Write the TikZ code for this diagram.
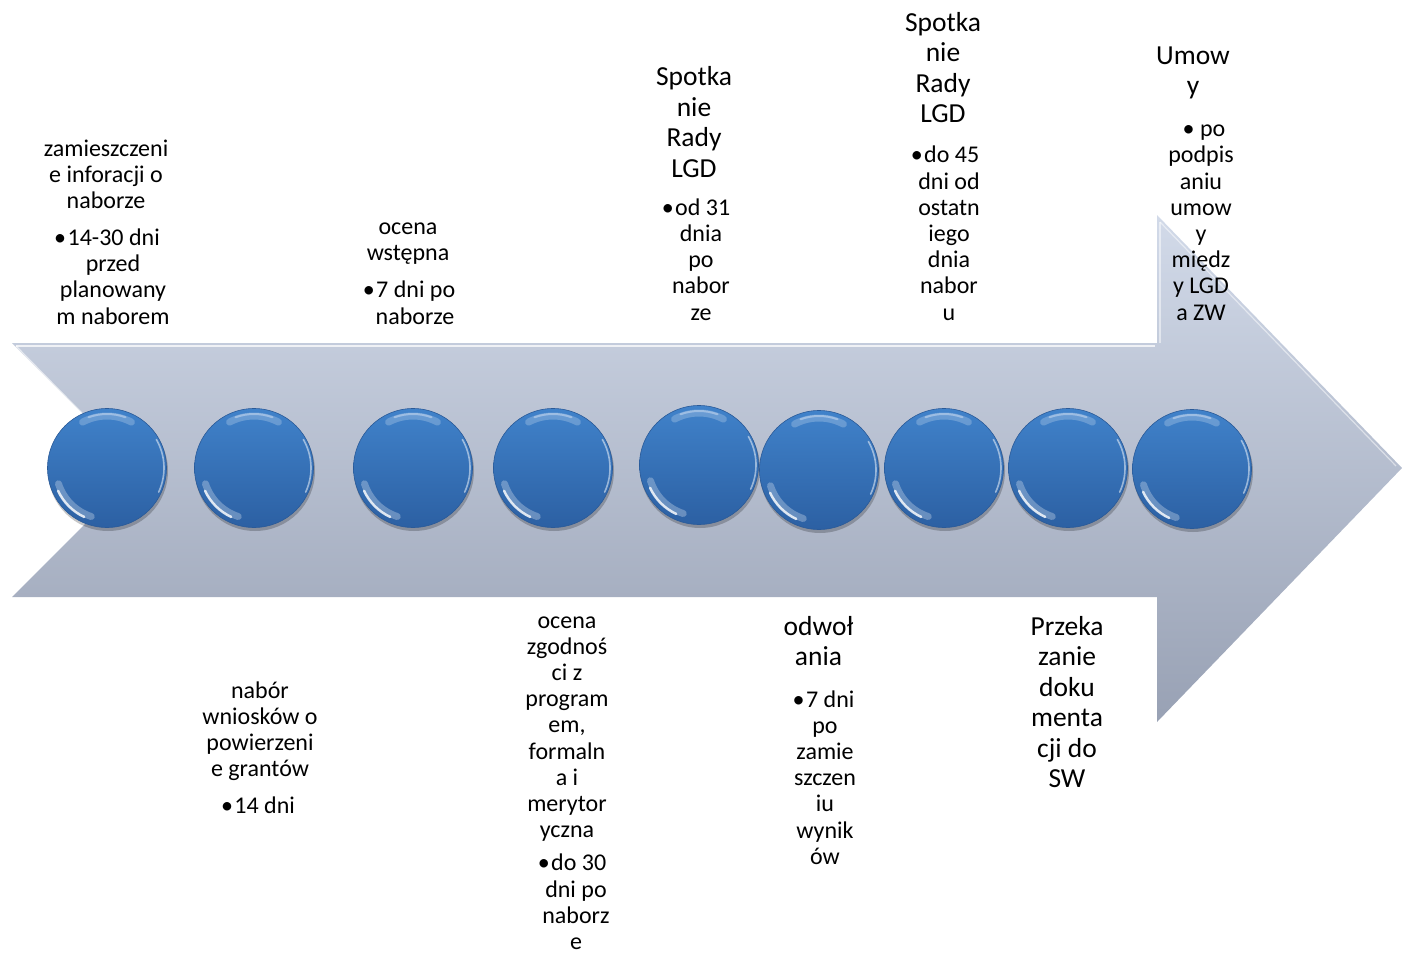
\documentclass[tikz,border=0pt]{standalone}
\usepackage{fontspec}
\setmainfont{Carlito}
\definecolor{arrTop}{HTML}{D2DAE9}
\definecolor{arrBot}{HTML}{98A1B4}
\definecolor{ballTop}{HTML}{4082CA}
\definecolor{ballBot}{HTML}{2C60A3}
\definecolor{ballEdge}{HTML}{2A5A98}
\tikzset{
  sm/.style={font=\fontsize{24}{26.2}\selectfont, align=center, anchor=north, inner sep=0pt, outer sep=0pt, text=black},
  lg/.style={font=\fontsize{27.5}{30.5}\selectfont, align=center, anchor=north, inner sep=0pt, outer sep=0pt, text=black},
  ball/.style={circle, minimum size=119pt, inner sep=0pt, top color=ballTop, bottom color=ballBot, draw=ballEdge, line width=0.6pt},
  hlTop/.style={white, opacity=0.22, line width=7pt, line cap=round},
  hlTopCore/.style={white, opacity=0.35, line width=2pt, line cap=round},
  hlLow/.style={white, opacity=0.8, line width=2.5pt, line cap=round},
  hlLowSoft/.style={white, opacity=0.28, line width=7pt, line cap=round},
  hlRight/.style={white, opacity=0.5, line width=1.6pt, line cap=round},
  shadowball/.style={black, opacity=0.22},
}
\begin{document}
\begin{tikzpicture}[x=1pt,y=1pt]
\useasboundingbox (0,0) rectangle (1402,-955);
% big arrow
\path[top color=arrTop, bottom color=arrBot]
  (12,-343) -- (1157,-343) -- (1157,-215) -- (1402,-468) -- (1157,-722)
  -- (1157,-597) -- (12,-597) -- (139,-470) -- cycle;
\draw[white, opacity=0.75, line width=1.2pt] (16,-346) -- (1155,-346);
\draw[white, opacity=0.6, line width=1.2pt] (16,-346) -- (136,-468);
\draw[white, opacity=0.5, line width=1.2pt] (1160,-222) -- (1160,-343);
\draw[white, opacity=0.5, line width=1.2pt] (1160,-222) -- (1396,-466);
% balls
\foreach \i/\x/\y in {1/107/-468, 2/254/-468, 3/413/-468, 4/553/-468, 5/699/-465, 6/819/-470, 7/944/-468, 8/1068/-468, 9/1192/-469}{
  \fill[shadowball] (\x+1,\y-3) circle[radius=60];
  \node[ball] (c\i) at (\x,\y) {};
  \draw[hlTop] (c\i.center) ++(62:52) arc[start angle=62, end angle=118, radius=52];
  \draw[hlTopCore] (c\i.center) ++(70:54) arc[start angle=70, end angle=110, radius=54];
  \draw[hlLowSoft] (c\i.center) ++(198:51) arc[start angle=198, end angle=252, radius=51];
  \draw[hlLow] (c\i.center) ++(205:54) arc[start angle=205, end angle=245, radius=54];
  \draw[hlRight] (c\i.center) ++(-25:57) arc[start angle=-25, end angle=30, radius=57];
}
% texts
\node[sm] (t1) at (106,-137.66) {\strut zamieszczeni\\e inforacji o\\naborze};
\node[sm] (b1) at (113,-227.06) {\strut\kern-12pt •\kern1.5pt 14-30 dni\\przed\\planowany\\m naborem};
\node[sm] (t2) at (260,-679.66) {\strut nabór\\wniosków o\\powierzeni\\e grantów};
\node[sm] (b2) at (264,-795.26) {\strut\kern-12pt •\kern1.5pt 14 dni};
\node[sm] (t3) at (408,-216.26) {\strut ocena\\wstępna};
\node[sm] (b3) at (415,-279.46) {\strut\kern-12pt •\kern1.5pt 7 dni po\\naborze};
\node[sm] (t4) at (567,-609.66) {\strut ocena\\zgodnoś\\ci z\\program\\em,\\formaln\\a i\\merytor\\yczna};
\node[sm] (b4) at (576,-852.5) {\strut\kern-8pt •\kern1.5pt do 30\\dni po\\naborz\\e};
\node[lg] (t5) at (694,-64.35) {\strut Spotka\\nie\\Rady\\LGD};
\node[sm] (b5) at (701,-196.86) {\strut\kern-10pt •\kern1.5pt od 31\\dnia\\po\\nabor\\ze};
\node[lg] (t6) at (818.5,-613.65) {\strut odwoł\\ania};
\node[sm] (b6) at (825,-688.66) {\strut\kern-3pt •\kern1.5pt 7 dni\\po\\zamie\\szczen\\iu\\wynik\\ów};
\node[lg] (t7) at (943,-9.95) {\strut Spotka\\nie\\Rady\\LGD};
\node[sm] (b7) at (949,-144.46) {\strut\kern-8pt •\kern1.5pt do 45\\dni od\\ostatn\\iego\\dnia\\nabor\\u};
\node[lg] (t8) at (1067,-613.65) {\strut Przeka\\zanie\\doku\\menta\\cji do\\SW};
\node[lg] (t9) at (1193,-42.75) {\strut Umow\\y};
\node[sm] (b9) at (1201,-118.26) {\strut\kern6pt • po\\podpis\\aniu\\umow\\y\\międz\\y LGD\\a ZW};
\end{tikzpicture}
\end{document}
